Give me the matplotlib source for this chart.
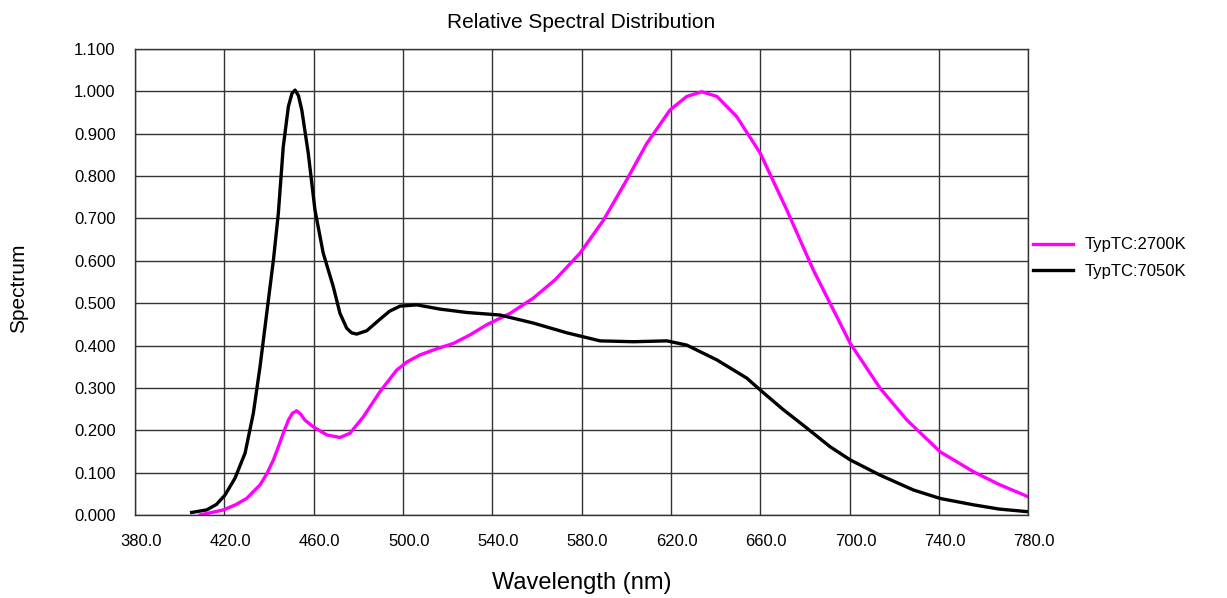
import matplotlib
matplotlib.use('Agg')
import matplotlib.pyplot as plt
from matplotlib.transforms import ScaledTranslation

plt.rcParams['font.family'] = ['Liberation Sans', 'DejaVu Sans']

# Wavelength (nm) / relative value pairs
wl_2700 = [409.1, 419.6, 425, 430, 436, 439, 442, 444.5, 446.4, 448.7, 450.5,
           452.4, 454.2, 456.1, 459.9, 465.9, 471.8, 476.3, 482.3, 489.7, 497.2,
           502, 507.7, 515, 522.6, 530, 537.5, 548, 558.4, 568.1, 579.3, 589.8,
           600.2, 609.2, 619.6, 627.1, 633.8, 640.6, 649.5, 660, 671.9, 683.8,
           694.3, 700.3, 713.7, 725.7, 740.6, 755.5, 767, 780]
sp_2700 = [0.0, 0.012, 0.024, 0.039, 0.071, 0.097, 0.13, 0.165, 0.193, 0.224,
           0.240, 0.246, 0.238, 0.224, 0.208, 0.189, 0.183, 0.193, 0.232, 0.291,
           0.342, 0.362, 0.378, 0.392, 0.405, 0.425, 0.449, 0.476, 0.512, 0.555,
           0.618, 0.696, 0.791, 0.877, 0.956, 0.988, 0.999, 0.988, 0.940, 0.854,
           0.72, 0.578, 0.468, 0.405, 0.299, 0.224, 0.149, 0.102, 0.072, 0.043]

wl_7050 = [405.4, 412.1, 416.5, 420.3, 424.8, 429.3, 433, 436, 439, 442, 444.2,
           446.4, 448.7, 450.3, 451.7, 453.2, 454.7, 457.6, 460.6, 464.3, 468.8,
           471.8, 474.8, 477, 479.3, 483.8, 489.7, 494, 498.7, 506.2, 516.6,
           528.6, 543.5, 558.4, 573.4, 588.3, 603.2, 618.2, 627.1, 640.6, 654,
           660, 670, 680.9, 691.3, 700.3, 713.7, 728.6, 740.6, 755.5, 767, 779.4]
sp_7050 = [0.006, 0.012, 0.025, 0.047, 0.087, 0.146, 0.240, 0.350, 0.476, 0.602,
           0.712, 0.869, 0.964, 0.995, 1.003, 0.99, 0.956, 0.854, 0.72, 0.618,
           0.539, 0.476, 0.441, 0.430, 0.427, 0.435, 0.462, 0.481, 0.493, 0.496,
           0.486, 0.478, 0.472, 0.453, 0.430, 0.411, 0.409, 0.411, 0.401, 0.366,
           0.323, 0.295, 0.250, 0.205, 0.161, 0.130, 0.094, 0.059, 0.039, 0.024,
           0.014, 0.008]

x_ticks = [380, 420, 460, 500, 540, 580, 620, 660, 700, 740, 780]
y_ticks = [0.0, 0.1, 0.2, 0.3, 0.4, 0.5, 0.6, 0.7, 0.8, 0.9, 1.0, 1.1]

fig = plt.figure(figsize=(12.27, 5.98), dpi=100)
ax = fig.add_axes([0.110, 0.1388, 0.728, 0.7793])

ax.plot(wl_2700, sp_2700, color='#ff00ff', lw=2.4, label='TypTC:2700K',
        solid_joinstyle='round')
ax.plot(wl_7050, sp_7050, color='black', lw=2.4, label='TypTC:7050K',
        solid_joinstyle='round')

ax.set_xlim(380, 780)
ax.set_ylim(0, 1.1)
ax.set_xticks(x_ticks)
ax.set_yticks(y_ticks)
ax.set_xticklabels([f'{v:.1f}' for v in x_ticks])
ax.set_yticklabels([f'{v:.3f}' for v in y_ticks])
ax.tick_params(length=0, labelsize=12, pad=14)

# x labels in the reference sit a little right of their grid lines
shift = ScaledTranslation(0.06, 0, fig.dpi_scale_trans)
for lab in ax.get_xticklabels():
    lab.set_transform(lab.get_transform() + shift)

ax.grid(True, color='#333333', lw=1.0)
ax.set_axisbelow(True)
for s in ax.spines.values():
    s.set_color('#333333')
    s.set_linewidth(1.0)

ax.set_title('Relative Spectral Distribution', fontsize=15, pad=15)
ax.set_xlabel('Wavelength (nm)', fontsize=17, labelpad=16)
ax.set_ylabel('Spectrum', fontsize=15)
ax.yaxis.set_label_coords(-0.12, 0.486)

ax.legend(loc='center left', bbox_to_anchor=(0.998, 0.551),
          frameon=False, fontsize=12, handlelength=2.4, borderaxespad=0,
          handletextpad=0.72, labelspacing=0.7)

fig.savefig('out.png', dpi=100)
